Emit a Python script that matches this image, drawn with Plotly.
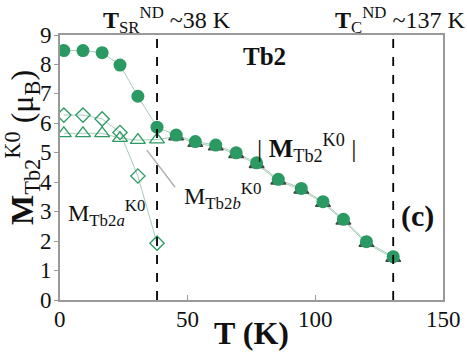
import plotly.graph_objects as go

# ---- data ----
T_all = [1.5, 9, 16.5, 23.5, 30.5, 38, 45.5, 53, 61, 69, 77, 85.5, 94.5, 103, 111, 120, 130.5]
M_total = [8.47, 8.47, 8.4, 7.98, 6.92, 5.87, 5.6, 5.38, 5.26, 5.0, 4.66, 4.1, 3.79, 3.34, 2.74, 1.98, 1.47]
M_b = [5.66, 5.66, 5.66, 5.5, 5.43, 5.45, 5.55, 5.33, 5.21, 4.95, 4.61, 4.05, 3.74, 3.29, 2.69, 1.93, 1.42]
T_a = [1.5, 9, 16.5, 23.5, 30.5, 38]
M_a = [6.28, 6.28, 6.15, 5.69, 4.21, 1.93]
T_lines = [38, 130.5]
x_ticks = [0, 50, 100, 150]
y_ticks = [0, 1, 2, 3, 4, 5, 6, 7, 8, 9]

GREEN = "#2b9a62"
LINE = "#a9cdb8"
SERIF = "Liberation Serif"

fig = go.Figure()

fig.add_trace(go.Scatter(x=T_a, y=M_a, mode="lines", line=dict(color=LINE, width=1), showlegend=False, hoverinfo="skip"))
fig.add_trace(go.Scatter(x=T_all, y=M_b, mode="lines", line=dict(color=LINE, width=1), showlegend=False, hoverinfo="skip"))
fig.add_trace(go.Scatter(x=T_all, y=M_total, mode="lines", line=dict(color=LINE, width=1), showlegend=False, hoverinfo="skip"))

fig.add_trace(go.Scatter(x=T_a, y=M_a, mode="markers",
                         marker=dict(symbol="diamond-open", size=11, color=GREEN, line=dict(width=1.3)),
                         showlegend=False))
tri_sym = ["triangle-up-open" if t <= 38 else "triangle-up" for t in T_all]
fig.add_trace(go.Scatter(x=T_all, y=M_b, mode="markers",
                         marker=dict(symbol=tri_sym, size=13, color=GREEN, line=dict(width=1.3)),
                         showlegend=False))
fig.add_trace(go.Scatter(x=T_all, y=M_total, mode="markers",
                         marker=dict(symbol="circle", size=13, color=GREEN),
                         showlegend=False))

shapes = []
for tl in T_lines:
    shapes.append(dict(type="line", xref="x", yref="paper", x0=tl, x1=tl, y0=0, y1=1.01,
                       line=dict(color="black", width=1.8, dash="dash")))
shapes.append(dict(type="line", xref="x", yref="y", x0=34, y0=5.09, x1=45.1, y1=3.83,
                   line=dict(color="#b0b0b0", width=1.5)))

def px2paper(px, py):
    return (px - 60) / 383, (300 - py) / 265

ann = []
def add(text, px, py, size, xanchor="center", angle=0):
    x, y = px2paper(px, py)
    ann.append(dict(text=text, x=x, y=y, xref="paper", yref="paper", showarrow=False,
                    xanchor=xanchor, yanchor="middle", textangle=angle,
                    font=dict(family=SERIF, size=size, color="#111")))

# tick labels drawn as text
for v in x_ticks:
    ann.append(dict(text=str(v), x=v, y=-0.02, xref="x", yref="paper", showarrow=False,
                    xanchor="center", yanchor="top", font=dict(family=SERIF, size=23, color="#111")))
for v in y_ticks:
    ann.append(dict(text=str(v), x=-0.015, y=v, xref="paper", yref="y", showarrow=False,
                    xanchor="right", yanchor="middle", font=dict(family=SERIF, size=23, color="#111")))

add("<b>Tb2</b>", 264, 56, 25)
add("<b>(c)</b>", 417, 216, 30)
add("| <b>M</b><sub>Tb2</sub><sup>K0</sup> |", 307, 148, 26)
add("M<sub>Tb2<i>b</i></sub><sup>K0</sup>", 182, 196, 24, xanchor="left")
add("M<sub>Tb2<i>a</i></sub><sup>K0</sup>", 66, 213, 24, xanchor="left")
add("<b>T</b><sub>SR</sub><sup>ND</sup> ~38 K", 101, 20, 24, xanchor="left")
add("<b>T</b><sub>C</sub><sup>ND</sup> ~137 K", 333, 20, 24, xanchor="left")
add("<b>T (K)</b>", 252, 333, 32)
add("<b>M</b><sub>Tb2</sub><sup>K0</sup> (μ<sub>B</sub>)", 22, 148, 32, angle=-90)

fig.update_layout(
    width=467, height=353,
    margin=dict(l=60, r=24, t=35, b=53),
    paper_bgcolor="white", plot_bgcolor="white",
    shapes=shapes, annotations=ann,
    font=dict(family=SERIF, size=21, color="#111"),
)
fig.update_xaxes(range=[0, 150], tickvals=x_ticks, showticklabels=False, showgrid=False, zeroline=False,
                 showline=True, linecolor="#999", linewidth=1.5, mirror=True,
                 ticks="inside", ticklen=5, tickcolor="#999")
fig.update_yaxes(range=[0, 9], tickvals=y_ticks, showticklabels=False, showgrid=False, zeroline=False,
                 showline=True, linecolor="#999", linewidth=1.5, mirror=True,
                 ticks="outside", ticklen=4, tickcolor="#999")

fig.write_html("out.html")
